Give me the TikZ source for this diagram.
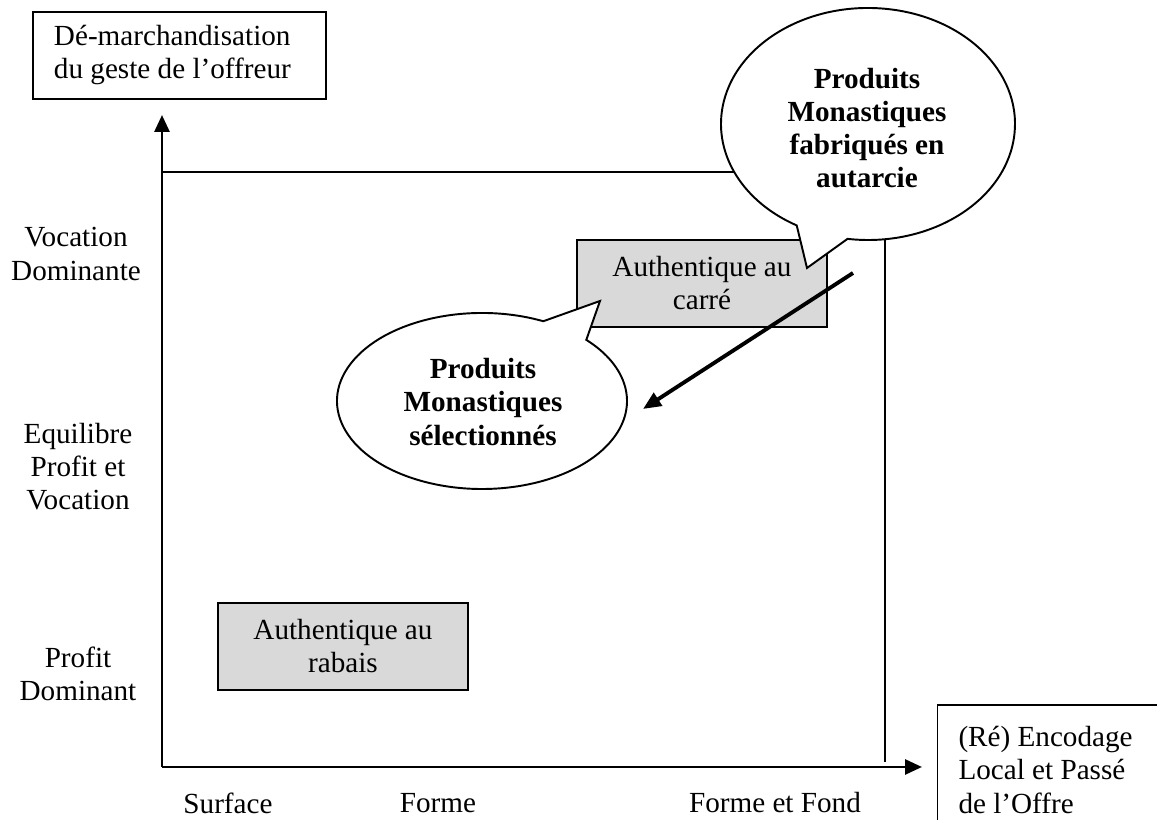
\documentclass[tikz,border=0pt]{standalone}
\usepackage{fontspec}
\setmainfont{Liberation Serif}
\usetikzlibrary{arrows.meta}

\begin{document}
\begin{tikzpicture}[
  every node/.style={font=\fontsize{16.6}{18.8}\selectfont},
  txtbox/.style={draw, line width=0.7pt, align=flush left, inner xsep=0.42cm},
  graybox/.style={draw, fill=gray!30, line width=0.7pt, minimum width=5cm, minimum height=1.74cm, align=flush center},
  axlabel/.style={align=flush center},
  bubble/.style={draw, fill=white, line width=1.1pt},
  bubtext/.style={align=flush center, font=\fontsize{16.6}{18.8}\selectfont\bfseries},
  axis/.style={line width=1.6pt, -{Triangle[length=3.4mm, width=3mm]}}
]
\useasboundingbox (-3.24,-1.06) rectangle (19.9,15.34);
\clip (-3.24,-1.06) rectangle (19.9,15.34);

% --- frame
\draw[line width=1.1pt] (0,11.9) -- (14.46,11.9) -- (14.46,0.1);

% --- axes
\coordinate (O) at (0,0);
\coordinate (Ytip) at (0,13.04);
\coordinate (Xtip) at (15.2,0);
\draw[axis] (O) -- (Ytip);
\draw[axis] (O) -- (Xtip);

\node[txtbox, text width=5.02cm, minimum height=1.74cm] (DM) at (0.35,14.23) {Dé-marchandisation\\du geste de l’offreur};
\node[txtbox, text width=3.8cm, minimum height=2.6cm] (EN) at (17.83,-0.06) {(Ré) Encodage\\Local et Passé\\de l’Offre};

% --- y labels
\node[axlabel] (VD) at (-1.72,10.26) {Vocation\\Dominante};
\node[axlabel] (EP) at (-1.68,6.0) {Equilibre\\Profit et\\Vocation};
\node[axlabel] (PD) at (-1.68,1.87) {Profit\\Dominant};

% --- x labels
\node (SU) at (1.32,-0.72) {Surface};
\node (FO) at (5.52,-0.72) {Forme};
\node (FF) at (12.26,-0.72) {Forme et Fond};

% --- gray boxes
\node[graybox] (AC) at (10.8,9.67) {Authentique au\\carré};
\node[graybox] (AR) at (3.62,2.41) {Authentique au\\rabais};

% --- bubbles
\filldraw[bubble] (14.12,12.86) ++(262:2.94cm and 2.32cm) arc[start angle=262, end angle=601, x radius=2.94cm, y radius=2.32cm] -- (12.9,9.98) -- cycle;
\node[bubtext] (PF) at (14.1,12.77) {Produits\\Monastiques\\fabriqués en\\autarcie};

\filldraw[bubble] (6.4,7.32) ++(65:2.9cm and 1.76cm) arc[start angle=65, end angle=404, x radius=2.9cm, y radius=1.76cm] -- (8.76,9.32) -- cycle;
\node[bubtext] (PS) at (6.42,7.3) {Produits\\Monastiques\\sélectionnés};

% --- arrow
\coordinate (from) at (13.82,9.88);
\coordinate (to) at (9.62,7.16);
\draw[line width=2.2pt, -{Triangle[length=3.6mm, width=3mm]}] (from) -- (to);

\end{tikzpicture}
\end{document}
